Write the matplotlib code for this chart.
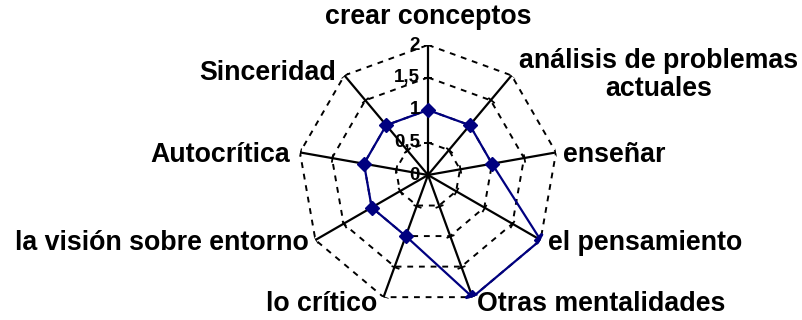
import numpy as np
import matplotlib
matplotlib.use('Agg')
import matplotlib.pyplot as plt

# categories (clockwise from the top) and values
categories = ['crear conceptos', 'análisis de problemas\nactuales', 'enseñar',
              'el pensamiento', 'Otras mentalidades', 'lo crítico',
              'la visión sobre entorno', 'Autocrítica', 'Sinceridad']
values = [1, 1, 1, 2, 2, 1, 1, 1, 1]
levels = [0, 0.5, 1, 1.5, 2]
level_labels = ['0', '0,5', '1', '1,5', '2']

plt.rcParams['font.family'] = ['Liberation Sans', 'DejaVu Sans']

fig = plt.figure(figsize=(8.03, 3.2), dpi=100)
ax = fig.add_axes([298 / 803, 15 / 320, 260 / 803, 260 / 320], projection='polar')
ax.set_theta_zero_location('N')
ax.set_theta_direction(-1)
ax.set_ylim(0, 2)
ax.axis('off')

n = len(categories)
theta = np.arange(n) * 2 * np.pi / n
theta_closed = np.append(theta, theta[0])

# dashed polygon grid
for lv in levels[1:]:
    ax.plot(theta_closed, [lv] * (n + 1), color='black', lw=1.4,
            ls=(0, (3, 3)), zorder=1)

# spokes with small tick marks
for t in theta:
    ax.plot([t, t], [0, 2], color='black', lw=1.6, zorder=2)
    rot = 90 - np.degrees(t)
    ax.plot([t] * 4, levels[1:], ls='none', marker=(2, 0, rot), ms=6,
            mec='black', mew=1.3, zorder=2)

# data series
vals_closed = values + values[:1]
ax.plot(theta_closed, vals_closed, color='#000080', lw=1.6, zorder=3)
ax.plot(theta, values, ls='none', marker='D', ms=7.5, color='#000080', zorder=4)

# radial value labels
for lv, lab in zip(levels, level_labels):
    ax.annotate(lab, xy=(0, lv), xytext=(-8, 0), textcoords='offset pixels',
                ha='right', va='center', fontsize=13.5, fontweight='bold',
                annotation_clip=False, zorder=5)

# category labels (dx, dy in pixels, dy measured downwards)
offsets = [(0, -28, 'center'), (147, 0, 'center'), (7, 3, 'left'),
           (7, 3, 'left'), (5, 7, 'left'), (-6, 7, 'right'),
           (-7, 3, 'right'), (-10, 3, 'right'), (-8, -2, 'right')]
for t, lab, (dx, dy, ha) in zip(theta, categories, offsets):
    ax.annotate(lab, xy=(t, 2), xytext=(dx, -dy), textcoords='offset pixels',
                ha=ha, va='center', multialignment='center', fontsize=19.3,
                fontweight='bold', annotation_clip=False, linespacing=1.1)

fig.savefig('out.png', dpi=100)
